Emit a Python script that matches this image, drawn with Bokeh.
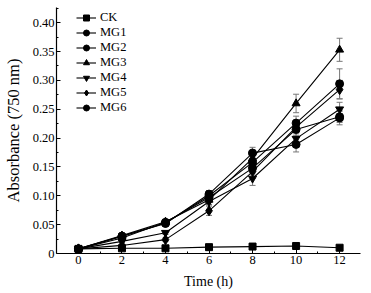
from bokeh.plotting import figure
from bokeh.models import ColumnDataSource, Whisker, TeeHead, Legend, LegendItem, FixedTicker, Range1d
from bokeh.embed import file_html
from bokeh.resources import INLINE

time_h = [0, 2, 4, 6, 8, 10, 12]
series_names = ["CK", "MG1", "MG2", "MG3", "MG4", "MG5", "MG6"]
ck  = [0.008, 0.009, 0.009, 0.011, 0.012, 0.013, 0.010]
mg1 = [0.008, 0.030, 0.053, 0.100, 0.158, 0.226, 0.294]
mg2 = [0.008, 0.027, 0.054, 0.097, 0.148, 0.215, 0.237]
mg3 = [0.008, 0.031, 0.055, 0.093, 0.165, 0.260, 0.353]
mg4 = [0.008, 0.021, 0.036, 0.090, 0.130, 0.199, 0.250]
mg5 = [0.008, 0.014, 0.024, 0.074, 0.142, 0.219, 0.284]
mg6 = [0.008, 0.030, 0.052, 0.103, 0.174, 0.189, 0.235]
err_ck  = [0.001, 0.001, 0.001, 0.001, 0.001, 0.001, 0.001]
err_mg1 = [0.001, 0.003, 0.003, 0.006, 0.012, 0.012, 0.026]
err_mg2 = [0.001, 0.003, 0.003, 0.006, 0.010, 0.010, 0.010]
err_mg3 = [0.001, 0.003, 0.003, 0.008, 0.014, 0.016, 0.020]
err_mg4 = [0.001, 0.002, 0.003, 0.006, 0.012, 0.010, 0.012]
err_mg5 = [0.001, 0.002, 0.003, 0.008, 0.012, 0.010, 0.016]
err_mg6 = [0.001, 0.003, 0.003, 0.006, 0.010, 0.013, 0.012]

all_vals = [ck, mg1, mg2, mg3, mg4, mg5, mg6]
all_errs = [err_ck, err_mg1, err_mg2, err_mg3, err_mg4, err_mg5, err_mg6]
markers = ["square", "circle", "circle", "triangle", "inverted_triangle", "diamond", "circle"]
msizes = [7, 8, 8, 8, 8, 10, 8]

FONT = "Liberation Serif"

p = figure(width=371, height=293, output_backend="svg", toolbar_location=None,
           x_range=Range1d(-1.008, 12.96), y_range=Range1d(0, 0.4263),
           min_border_left=55, min_border_right=11, min_border_top=7, min_border_bottom=40)
p.outline_line_color = None
p.xgrid.visible = False
p.ygrid.visible = False
p.background_fill_color = "white"

items = []
for name, vals, errs, mk, ms in zip(series_names, all_vals, all_errs, markers, msizes):
    up = [v + e for v, e in zip(vals, errs)]
    lo = [v - e for v, e in zip(vals, errs)]
    src = ColumnDataSource(dict(x=time_h, y=vals, up=up, lo=lo))
    w = Whisker(source=src, base="x", upper="up", lower="lo",
                line_color="#777777", line_width=1,
                upper_head=TeeHead(size=6, line_color="#777777", line_width=1),
                lower_head=TeeHead(size=6, line_color="#777777", line_width=1))
    p.add_layout(w)
    r1 = p.line("x", "y", source=src, line_color="black", line_width=1.1)
    r2 = p.scatter("x", "y", source=src, marker=mk, size=ms, fill_color="black", line_color="black")
    items.append(LegendItem(label=name, renderers=[r1, r2]))

legend = Legend(items=items, location=(20, 138), border_line_color=None,
                background_fill_alpha=0, padding=0, margin=0, spacing=0,
                glyph_width=20, glyph_height=15, label_height=15, label_standoff=4,
                label_text_font=FONT, label_text_font_size="12.5px", label_text_color="black")
p.add_layout(legend)

p.xaxis.ticker = FixedTicker(ticks=time_h, minor_ticks=[1, 3, 5, 7, 9, 11])
p.yaxis.ticker = FixedTicker(ticks=[0, 0.05, 0.10, 0.15, 0.20, 0.25, 0.30, 0.35, 0.40],
                             minor_ticks=[0.025, 0.075, 0.125, 0.175, 0.225, 0.275, 0.325, 0.375, 0.425])
p.yaxis.major_label_overrides = {0: "0", 0.05: "0.05", 0.1: "0.10", 0.15: "0.15", 0.2: "0.20",
                                 0.25: "0.25", 0.3: "0.30", 0.35: "0.35", 0.4: "0.40"}
for ax in (p.xaxis, p.yaxis):
    ax.major_tick_in = 4
    ax.major_tick_out = 0
    ax.minor_tick_in = 2
    ax.minor_tick_out = 0
    ax.axis_line_color = "black"
    ax.axis_line_width = 1.2
    ax.major_tick_line_color = "black"
    ax.minor_tick_line_color = "black"
    ax.major_label_text_font = FONT
    ax.major_label_text_font_size = "12.5px"
    ax.major_label_text_color = "black"
    ax.axis_label_text_font = FONT
    ax.axis_label_text_font_style = "normal"
    ax.axis_label_text_color = "black"
p.xaxis.axis_label = "Time (h)"
p.yaxis.axis_label = "Absorbance (750 nm)"
p.xaxis.axis_label_text_font_size = "14px"
p.yaxis.axis_label_text_font_size = "16.5px"
p.xaxis.major_label_standoff = 2
p.yaxis.major_label_standoff = 2
p.xaxis.axis_label_standoff = 7
p.yaxis.axis_label_standoff = 7

open("out.html", "w").write(file_html(p, INLINE))
